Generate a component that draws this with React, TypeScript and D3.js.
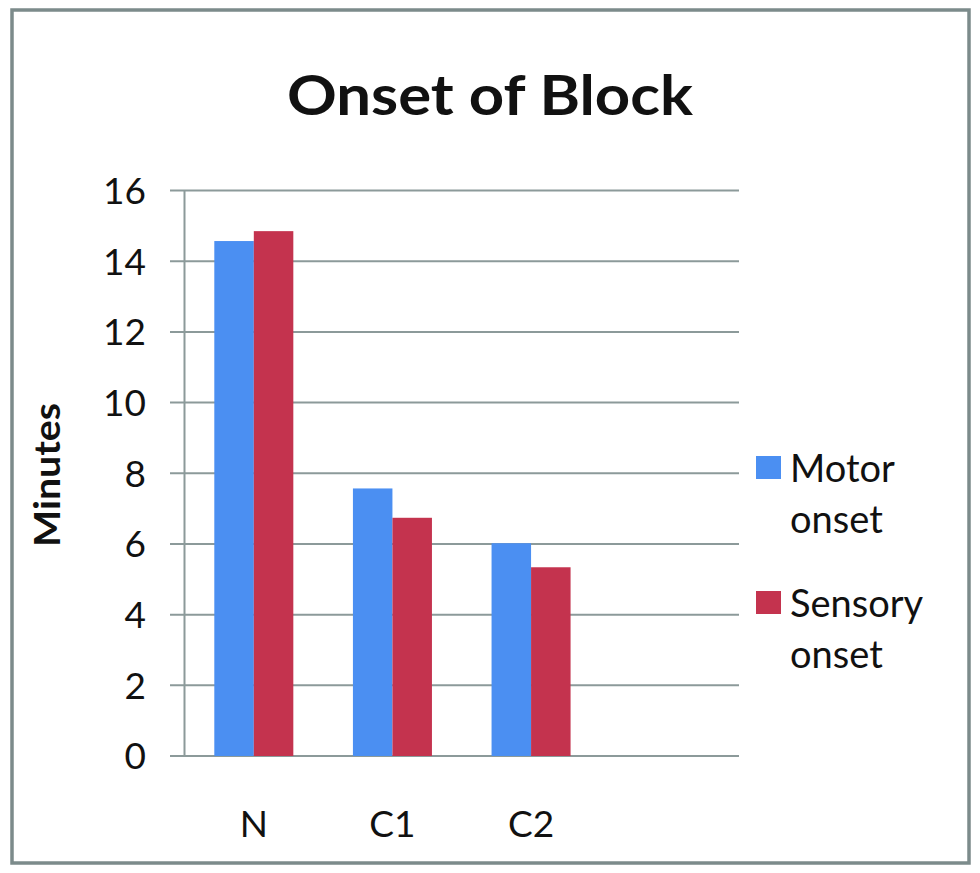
import React, { useEffect, useRef } from "react";
import * as d3 from "d3";

const categories = ["N", "C1", "C2", ""];
const seriesNames = ["Motor onset", "Sensory onset"];
const motorOnset = [14.57, 7.57, 6.02];
const sensoryOnset = [14.85, 6.74, 5.34];
const yTicks = [0, 2, 4, 6, 8, 10, 12, 14, 16];
const colors = ["#4b8ff2", "#c4334e"];

const W = 980;
const H = 873;
const FONT = "Lato, 'Open Sans', sans-serif";

export default function App() {
  const ref = useRef<SVGSVGElement | null>(null);

  useEffect(() => {
    const svg = d3.select(ref.current);
    svg.selectAll("*").remove();

    const left = 184.5, right = 739, top = 190.5, bottom = 756;

    svg.append("rect").attr("x", 0).attr("y", 0).attr("width", W).attr("height", H).attr("fill", "#fff");
    // outer frame
    svg.append("rect")
      .attr("x", 12).attr("y", 10).attr("width", 957).attr("height", 853)
      .attr("fill", "none").attr("stroke", "#7c8b8b").attr("stroke-width", 3.5);

    const x = d3.scaleBand<string>().domain(categories.map((c, i) => c + "_" + i)).range([left, right]).paddingInner(0).paddingOuter(0);
    const y = d3.scaleLinear().domain([0, 16]).range([bottom, top]);

    // gridlines
    svg.append("g").selectAll("line").data(yTicks).join("line")
      .attr("x1", 170).attr("x2", right)
      .attr("y1", d => y(d)).attr("y2", d => y(d))
      .attr("stroke", "#8c9a9a").attr("stroke-width", 2);

    // y axis line
    svg.append("line").attr("x1", left).attr("x2", left).attr("y1", top).attr("y2", bottom)
      .attr("stroke", "#8c9a9a").attr("stroke-width", 2);

    // y tick labels
    svg.append("g").selectAll("text").data(yTicks).join("text")
      .attr("x", 146).attr("y", d => y(d))
      .attr("dy", "0.36em")
      .attr("text-anchor", "end")
      .attr("font-family", FONT).attr("font-size", 37).attr("fill", "#111")
      .text(d => String(d));

    const groupW = x.bandwidth() * 0.57;
    const sub = d3.scaleBand<number>().domain([0, 1]).range([0, groupW]);
    const series = [motorOnset, sensoryOnset];

    series.forEach((vals, si) => {
      svg.append("g").selectAll("rect").data(vals).join("rect")
        .attr("x", (d, i) => (x(categories[i] + "_" + i) as number) + (x.bandwidth() - groupW) / 2 + (sub(si) as number))
        .attr("y", d => y(d))
        .attr("width", sub.bandwidth())
        .attr("height", d => bottom - y(d))
        .attr("fill", colors[si]);
    });

    // x labels
    svg.append("g").selectAll("text").data(categories).join("text")
      .attr("x", (d, i) => (x(d + "_" + i) as number) + x.bandwidth() / 2)
      .attr("y", 837)
      .attr("text-anchor", "middle")
      .attr("font-family", FONT).attr("font-size", 37).attr("fill", "#111")
      .text(d => d);

    // title
    svg.append("text").attr("x", 490).attr("y", 115).attr("text-anchor", "middle")
      .attr("font-family", FONT).attr("font-weight", "bold").attr("font-size", 56).attr("fill", "#111")
      .attr("textLength", 406).attr("lengthAdjust", "spacingAndGlyphs")
      .text("Onset of Block");

    // y label
    svg.append("text").attr("transform", "translate(60,475) rotate(-90)").attr("text-anchor", "middle")
      .attr("font-family", FONT).attr("font-weight", "bold").attr("font-size", 37).attr("fill", "#111")
      .attr("textLength", 144).attr("lengthAdjust", "spacingAndGlyphs")
      .text("Minutes");

    // legend
    const legendY = [456, 591];
    seriesNames.forEach((name, i) => {
      svg.append("rect").attr("x", 756).attr("y", legendY[i]).attr("width", 25).attr("height", 23).attr("fill", colors[i]);
      const words = name.split(" ");
      const t = svg.append("text").attr("font-family", FONT).attr("font-size", 38).attr("fill", "#111");
      words.forEach((w, j) => {
        t.append("tspan").attr("x", 790).attr("y", legendY[i] + 26 + j * 51).text(w);
      });
    });
  }, []);

  return (
    <svg ref={ref} width={W} height={H} style={{ position: "absolute", left: 0, top: 0, display: "block" }} />
  );
}
